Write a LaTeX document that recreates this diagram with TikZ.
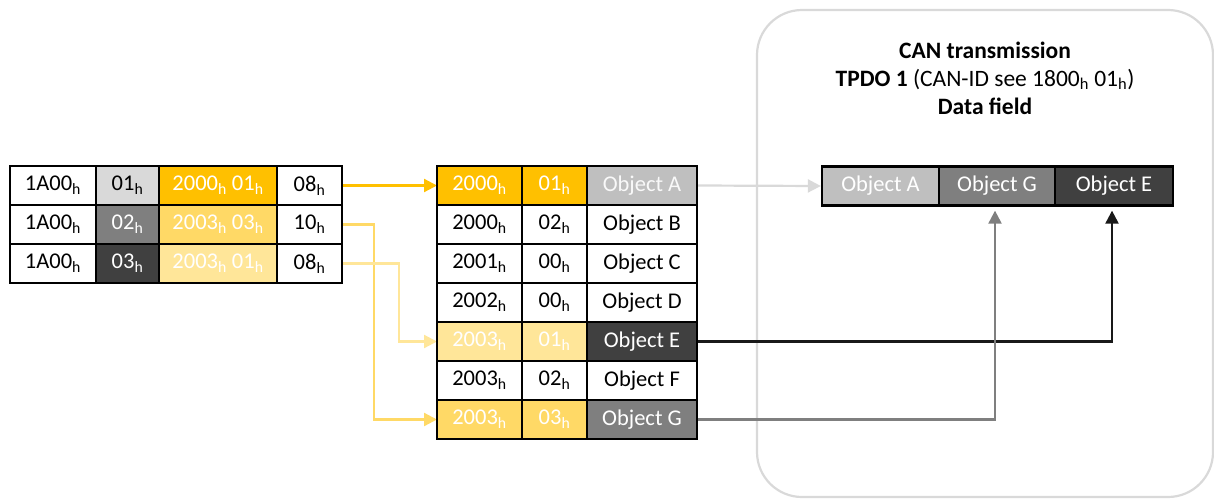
\documentclass[tikz,border=0pt]{standalone}
\usepackage{fontspec}
\setmainfont{Carlito}
\usetikzlibrary{arrows.meta}
\definecolor{gLight}{HTML}{D9D9D9}
\definecolor{gMid}{HTML}{BFBFBF}
\definecolor{gGray}{HTML}{7F7F7F}
\definecolor{gDark}{HTML}{404040}
\definecolor{goldA}{HTML}{FFC000}
\definecolor{goldB}{HTML}{FFD966}
\definecolor{goldC}{HTML}{FFE699}
\newcommand{\hx}{\textsubscript{h}}
\begin{document}
\begin{tikzpicture}[x=1pt,y=-1pt,
  cell/.style={draw=black, line width=2.3pt, minimum height=39pt, inner sep=0pt,
    font=\fontsize{22.5}{26}\selectfont, anchor=center},
  wtext/.style={text=white},
  conn/.style={line width=2.2pt, -{Triangle[length=13pt,width=13pt]}},
  frame/.style={draw=gLight, line width=2.2pt, rounded corners=45pt, minimum width=456pt, minimum height=487pt, inner sep=0pt}
]
\useasboundingbox (0,0) rectangle (1214,498);
\node[frame] (fr) at (985,253.5) {};
\node[align=center, font=\fontsize{23.5}{28}\selectfont] (title) at (985,78)
  {\textbf{CAN transmission}\\\textbf{TPDO 1} (CAN-ID see 1800\hx{} 01\hx)\\\textbf{Data field}};

% left table
\node[cell, minimum width=86pt] (L11) at (53,185.5) {1A00\hx};
\node[cell, minimum width=63pt, fill=gLight] (L12) at (127.5,185.5) {01\hx};
\node[cell, minimum width=118pt, fill=goldA, wtext] (L13) at (218,185.5) {2000\hx{} 01\hx};
\node[cell, minimum width=65pt] (L14) at (309.5,185.5) {08\hx};
\node[cell, minimum width=86pt] (L21) at (53,224.5) {1A00\hx};
\node[cell, minimum width=63pt, fill=gGray, wtext] (L22) at (127.5,224.5) {02\hx};
\node[cell, minimum width=118pt, fill=goldB, wtext] (L23) at (218,224.5) {2003\hx{} 03\hx};
\node[cell, minimum width=65pt] (L24) at (309.5,224.5) {10\hx};
\node[cell, minimum width=86pt] (L31) at (53,263.5) {1A00\hx};
\node[cell, minimum width=63pt, fill=gDark, wtext] (L32) at (127.5,263.5) {03\hx};
\node[cell, minimum width=118pt, fill=goldC, wtext] (L33) at (218,263.5) {2003\hx{} 01\hx};
\node[cell, minimum width=65pt] (L34) at (309.5,263.5) {08\hx};

% connectors (drawn before middle cells)
\draw[conn, goldA] (L14.east) -- (437,185.5) coordinate (m1in);
\draw[conn, goldB] (L24.east) -- ++(31,0) |- (437,419.5) coordinate (m7in);
\draw[conn, goldC] (L34.east) -- ++(56,0) |- (437,341.5) coordinate (m5in);

% middle table
\node[cell, minimum width=85pt, fill=goldA, wtext] (M11) at (479.5,185.5) {2000\hx};
\node[cell, minimum width=65pt, fill=goldA, wtext] (M12) at (554.5,185.5) {01\hx};
\node[cell, minimum width=110pt, fill=gMid, text=white!95!gray] (M13) at (642,185.5) {Object A};
\node[cell, minimum width=85pt] (M21) at (479.5,224.5) {2000\hx};
\node[cell, minimum width=65pt] (M22) at (554.5,224.5) {02\hx};
\node[cell, minimum width=110pt] (M23) at (642,224.5) {Object B};
\node[cell, minimum width=85pt] (M31) at (479.5,263.5) {2001\hx};
\node[cell, minimum width=65pt] (M32) at (554.5,263.5) {00\hx};
\node[cell, minimum width=110pt] (M33) at (642,263.5) {Object C};
\node[cell, minimum width=85pt] (M41) at (479.5,302.5) {2002\hx};
\node[cell, minimum width=65pt] (M42) at (554.5,302.5) {00\hx};
\node[cell, minimum width=110pt] (M43) at (642,302.5) {Object D};
\node[cell, minimum width=85pt, fill=goldC, wtext] (M51) at (479.5,341.5) {2003\hx};
\node[cell, minimum width=65pt, fill=goldC, wtext] (M52) at (554.5,341.5) {01\hx};
\node[cell, minimum width=110pt, fill=gDark, wtext] (M53) at (642,341.5) {Object E};
\node[cell, minimum width=85pt] (M61) at (479.5,380.5) {2003\hx};
\node[cell, minimum width=65pt] (M62) at (554.5,380.5) {02\hx};
\node[cell, minimum width=110pt] (M63) at (642,380.5) {Object F};
\node[cell, minimum width=85pt, fill=goldB, wtext] (M71) at (479.5,419.5) {2003\hx};
\node[cell, minimum width=65pt, fill=goldB, wtext] (M72) at (554.5,419.5) {03\hx};
\node[cell, minimum width=110pt, fill=gGray, wtext] (M73) at (642,419.5) {Object G};

% data field
\node[cell, minimum width=117pt, fill=gMid, wtext] (D1) at (880.5,186) {Object A};
\node[cell, minimum width=116pt, fill=gGray, wtext] (D2) at (997,186) {Object G};
\node[cell, minimum width=118pt, fill=gDark, wtext] (D3) at (1114,186) {Object E};

% right connectors
\draw[conn, gLight] (M13.east) -- (D1.west);
\draw[conn, black!90, shorten >=4pt] (M53.east) -| ([xshift=-2pt]D3.south);
\draw[conn, gGray, shorten >=4pt] (M73.east) -| ([xshift=-2pt]D2.south);
\end{tikzpicture}
\end{document}
